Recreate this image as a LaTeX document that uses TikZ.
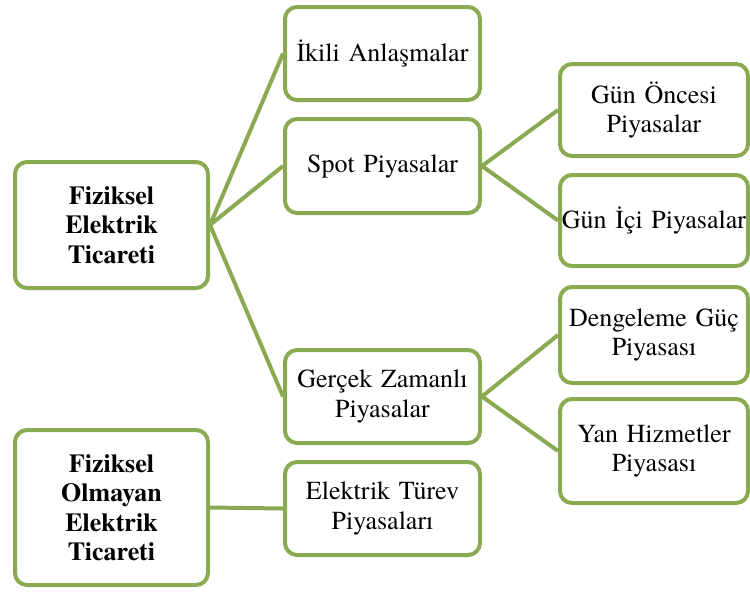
\documentclass[tikz,border=0pt]{standalone}
\usepackage{fontspec}
\setmainfont{TeX Gyre Termes}
\definecolor{gr}{RGB}{138,170,82}
\begin{document}
\begin{tikzpicture}[x=1pt,y=-1pt,
  box/.style={draw=gr, line width=4pt, rounded corners=12pt, fill=white,
    align=center, inner sep=0pt, font=\fontsize{26}{29.5}\selectfont},
  conn/.style={draw=gr, line width=4pt}]
\useasboundingbox (0,0) rectangle (750,592);
\node[box, minimum width=193pt, minimum height=126pt, text width=185pt, font=\fontsize{26}{29.5}\selectfont\bfseries] (A) at (111.5,225) {Fiziksel\\Elektrik\\Ticareti};
\node[box, minimum width=193pt, minimum height=155pt, text width=185pt, font=\fontsize{26}{29.5}\selectfont\bfseries] (B) at (111.5,507.5) {Fiziksel\\Olmayan\\Elektrik\\Ticareti};
\node[box, minimum width=195pt, minimum height=93pt, text width=190pt] (ikili) at (382.5,53.5) {İkili Anlaşmalar};
\node[box, minimum width=195pt, minimum height=94pt, text width=190pt] (spot) at (382.5,166) {Spot Piyasalar};
\node[box, minimum width=195pt, minimum height=93pt, text width=190pt] (gercek) at (382.5,396.5) {Gerçek Zamanlı\\Piyasalar};
\node[box, minimum width=195pt, minimum height=93pt, text width=190pt] (turev) at (382.5,508.5) {Elektrik Türev\\Piyasaları};
\node[box, minimum width=188pt, minimum height=92pt, text width=186pt] (onc) at (654,110) {Gün Öncesi\\Piyasalar};
\node[box, minimum width=188pt, minimum height=91pt, text width=186pt] (ici) at (654,220.5) {Gün İçi Piyasalar};
\node[box, minimum width=188pt, minimum height=96pt, text width=186pt] (deng) at (654,335) {Dengeleme Güç\\Piyasası};
\node[box, minimum width=188pt, minimum height=104pt, text width=186pt] (yan) at (654,451) {Yan Hizmetler\\Piyasası};
\draw[conn] (A.east) -- (ikili.west);
\draw[conn] (A.east) -- (spot.west);
\draw[conn] (A.east) -- (gercek.west);
\draw[conn] (spot.east) -- (onc.west);
\draw[conn] (spot.east) -- (ici.west);
\draw[conn] (gercek.east) -- (deng.west);
\draw[conn] (gercek.east) -- (yan.west);
\draw[conn] (B.east) -- (turev.west);
\end{tikzpicture}
\end{document}
